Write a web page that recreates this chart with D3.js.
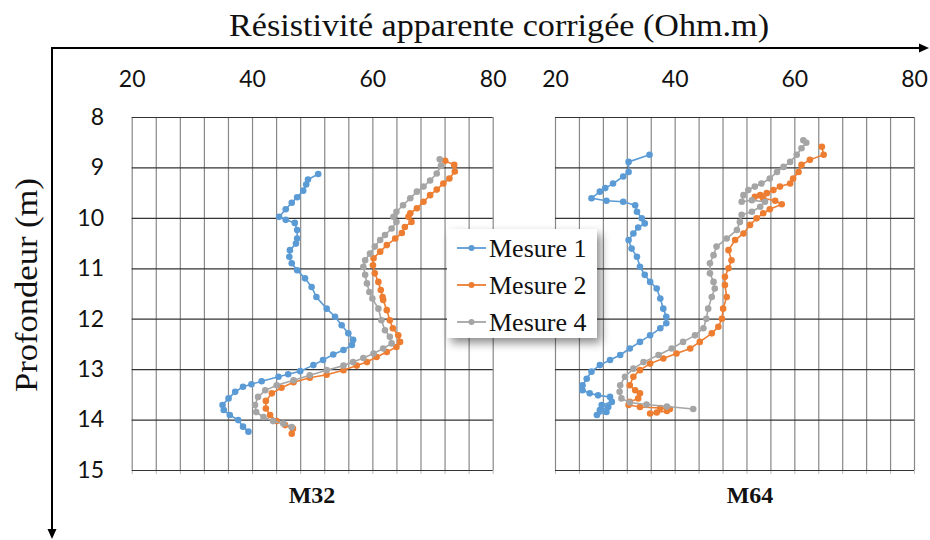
<!DOCTYPE html>
<html>
<head>
<meta charset="utf-8">
<script src="https://cdn.jsdelivr.net/npm/d3@7"></script>
<style>
  html, body { margin: 0; padding: 0; background: #fff; }
  svg { display: block; }
</style>
</head>
<body>
<svg id="chart" width="930" height="540"></svg>
<script>
// ---------- DATA ----------
const panels = ["M32", "M64"];
const seriesNames = ["Mesure 1", "Mesure 2", "Mesure 4"];
const seriesColors = ["#5B9BD5", "#ED7D31", "#A5A5A5"];
const xTickLabels = [20, 40, 60, 80];
const yTickLabels = [8, 9, 10, 11, 12, 13, 14, 15];
const xGridValues = [20, 24, 28, 32, 36, 40, 44, 48, 52, 56, 60, 64, 68, 72, 76, 80];

// M32 - Mesure 1
const m32_mes1_res   = [51.0, 49.3, 49.0, 48.5, 47.5, 46.6, 45.6, 44.5, 45.6, 47.1, 47.5, 47.5, 47.3, 46.3, 46.2, 46.6, 47.5, 48.8, 49.9, 50.7, 52.4, 53.8, 54.9, 56.0, 56.8, 56.6, 55.2, 53.5, 51.8, 50.2, 48.0, 46.0, 44.4, 41.6, 39.9, 38.5, 37.2, 36.1, 35.1, 35.3, 36.3, 37.7, 38.5, 39.4];
const m32_mes1_depth = [9.13, 9.24, 9.34, 9.46, 9.59, 9.70, 9.83, 9.98, 10.04, 10.10, 10.24, 10.41, 10.51, 10.64, 10.77, 10.90, 11.04, 11.20, 11.37, 11.57, 11.80, 11.96, 12.13, 12.29, 12.42, 12.52, 12.62, 12.71, 12.82, 12.92, 13.04, 13.10, 13.15, 13.24, 13.30, 13.35, 13.45, 13.58, 13.71, 13.81, 13.91, 14.01, 14.14, 14.24];
// M32 - Mesure 2
const m32_mes2_res   = [72.1, 73.6, 73.7, 72.8, 71.8, 70.7, 69.6, 68.5, 67.4, 66.3, 66.0, 66.5, 65.4, 64.9, 63.8, 62.4, 61.3, 60.2, 60.1, 60.4, 61.0, 61.4, 61.7, 61.8, 62.4, 62.9, 63.4, 64.3, 64.6, 64.0, 62.4, 60.7, 59.1, 57.4, 55.2, 52.4, 49.6, 46.9, 44.9, 43.3, 42.3, 42.3, 43.0, 44.1, 45.5, 46.8, 46.6];
const m32_mes2_depth = [8.87, 8.95, 9.08, 9.22, 9.32, 9.44, 9.55, 9.68, 9.81, 9.91, 9.98, 10.08, 10.18, 10.30, 10.41, 10.54, 10.67, 10.80, 10.94, 11.10, 11.27, 11.43, 11.57, 11.63, 11.83, 12.03, 12.19, 12.33, 12.46, 12.56, 12.66, 12.76, 12.86, 12.93, 13.02, 13.11, 13.17, 13.26, 13.37, 13.48, 13.63, 13.78, 13.91, 14.03, 14.11, 14.18, 14.28];
// M32 - Mesure 4
const m32_mes4_res   = [71.2, 71.4, 70.7, 69.6, 68.5, 67.4, 66.3, 65.1, 64.0, 63.5, 64.0, 63.2, 62.1, 61.3, 60.4, 59.6, 58.8, 58.5, 58.8, 59.1, 59.5, 60.0, 61.0, 61.5, 62.1, 62.9, 63.2, 61.8, 60.2, 58.5, 56.8, 55.2, 52.4, 49.6, 46.9, 44.1, 42.2, 41.0, 40.5, 40.7, 41.9, 43.5, 45.2, 46.6];
const m32_mes4_depth = [8.84, 8.97, 9.12, 9.26, 9.38, 9.48, 9.61, 9.75, 9.88, 9.98, 10.08, 10.21, 10.34, 10.44, 10.57, 10.71, 10.84, 10.97, 11.13, 11.30, 11.47, 11.60, 11.80, 12.03, 12.23, 12.36, 12.49, 12.59, 12.69, 12.78, 12.86, 12.93, 13.02, 13.12, 13.22, 13.32, 13.42, 13.55, 13.71, 13.85, 13.95, 14.03, 14.08, 14.15];

// M64 - Mesure 1
const m64_mes1_res   = [35.8, 32.3, 32.3, 31.4, 29.7, 28.4, 27.5, 26.1, 28.6, 31.4, 33.4, 33.7, 34.5, 35.0, 33.9, 33.1, 32.3, 32.8, 33.7, 34.2, 35.0, 35.9, 37.0, 37.6, 38.1, 38.6, 38.6, 37.6, 35.9, 34.2, 32.5, 30.9, 29.2, 27.5, 26.1, 25.3, 24.6, 24.6, 25.8, 27.2, 29.2, 29.5, 27.8, 28.9, 27.5, 28.6, 27.0];
const m64_mes1_depth = [8.75, 8.89, 9.09, 9.18, 9.32, 9.41, 9.48, 9.61, 9.66, 9.68, 9.75, 9.88, 10.01, 10.11, 10.19, 10.31, 10.44, 10.61, 10.77, 10.97, 11.13, 11.27, 11.40, 11.60, 11.80, 11.96, 12.09, 12.19, 12.33, 12.46, 12.59, 12.72, 12.82, 12.92, 13.05, 13.19, 13.32, 13.42, 13.48, 13.52, 13.55, 13.65, 13.71, 13.75, 13.81, 13.85, 13.91];
// M64 - Mesure 2
const m64_mes2_res   = [64.6, 64.9, 62.6, 61.2, 60.7, 59.8, 59.3, 57.6, 56.5, 55.4, 54.3, 53.4, 54.8, 56.8, 57.9, 55.9, 54.8, 53.7, 52.6, 51.5, 50.1, 49.0, 49.5, 49.0, 48.4, 48.4, 48.7, 48.1, 47.9, 47.3, 46.2, 44.2, 42.6, 40.3, 38.1, 35.9, 34.2, 33.1, 32.5, 33.4, 34.2, 33.9, 32.5, 32.3, 34.2, 37.6, 39.2, 38.7, 37.0, 35.9];
const m64_mes2_depth = [8.59, 8.75, 8.85, 8.95, 9.09, 9.22, 9.32, 9.38, 9.45, 9.51, 9.55, 9.58, 9.61, 9.66, 9.73, 9.83, 9.91, 10.01, 10.14, 10.31, 10.44, 10.64, 10.84, 11.00, 11.17, 11.33, 11.57, 11.80, 12.00, 12.16, 12.29, 12.46, 12.59, 12.69, 12.79, 12.89, 13.02, 13.15, 13.32, 13.42, 13.48, 13.58, 13.65, 13.71, 13.75, 13.77, 13.79, 13.83, 13.86, 13.88];
// M64 - Mesure 4
const m64_mes4_res   = [61.5, 62.0, 61.2, 60.4, 59.3, 58.2, 57.1, 55.9, 54.5, 53.4, 52.3, 51.5, 51.2, 52.9, 55.1, 54.3, 52.9, 51.2, 50.9, 50.4, 48.7, 47.0, 46.5, 45.9, 45.9, 46.5, 46.7, 46.2, 45.6, 45.3, 44.8, 43.4, 41.4, 39.5, 37.3, 34.8, 33.1, 31.7, 30.9, 30.8, 31.1, 32.5, 35.3, 38.7, 43.1];
const m64_mes4_depth = [8.46, 8.51, 8.62, 8.75, 8.89, 8.99, 9.09, 9.22, 9.32, 9.38, 9.45, 9.55, 9.68, 9.65, 9.68, 9.78, 9.88, 9.94, 10.08, 10.24, 10.41, 10.57, 10.74, 10.90, 11.10, 11.27, 11.40, 11.57, 11.80, 12.00, 12.19, 12.33, 12.46, 12.59, 12.72, 12.86, 12.99, 13.15, 13.32, 13.45, 13.58, 13.66, 13.70, 13.74, 13.79];

const panelData = [
  [[m32_mes1_res, m32_mes1_depth], [m32_mes2_res, m32_mes2_depth], [m32_mes4_res, m32_mes4_depth]],
  [[m64_mes1_res, m64_mes1_depth], [m64_mes2_res, m64_mes2_depth], [m64_mes4_res, m64_mes4_depth]]
];

// ---------- LAYOUT ----------
const svg = d3.select("#chart");
const serif = "'Liberation Serif', 'Times New Roman', serif";
const sans = "Lato, 'Open Sans', sans-serif";

const plotTop = 117, plotBottom = 470;
const panelRanges = [[131.7, 492.7], [555, 914]];
const labelX = [312, 750];

const y = d3.scaleLinear().domain([8, 15]).range([plotTop, plotBottom]);

const defs = svg.append("defs");
const filt = defs.append("filter").attr("id", "shadow")
  .attr("x", "-20%").attr("y", "-20%").attr("width", "150%").attr("height", "160%");
filt.append("feDropShadow").attr("dx", 4).attr("dy", 5).attr("stdDeviation", 5)
  .attr("flood-color", "#000").attr("flood-opacity", 0.45);

panels.forEach((name, pi) => {
  const x = d3.scaleLinear().domain([20, 80]).range(panelRanges[pi]);
  const g = svg.append("g");

  // vertical grid lines
  const vg = g.append("g").attr("transform", `translate(0,${plotBottom})`)
    .call(d3.axisBottom(x).tickValues(xGridValues).tickSize(-(plotBottom - plotTop)).tickFormat(""));
  vg.select(".domain").remove();
  vg.selectAll(".tick line").attr("stroke", "#888").attr("stroke-width", 1.2);

  // small ticks under the bottom edge
  const bt = g.append("g").attr("transform", `translate(0,${plotBottom})`)
    .call(d3.axisBottom(x).tickValues(xGridValues).tickSize(4).tickFormat(""));
  bt.select(".domain").remove();
  bt.selectAll(".tick line").attr("stroke", "#bbbbbb");

  // horizontal grid lines
  const hg = g.append("g").attr("transform", `translate(${panelRanges[pi][0]},0)`)
    .call(d3.axisLeft(y).tickValues(yTickLabels).tickSize(-(panelRanges[pi][1] - panelRanges[pi][0])).tickFormat(""));
  hg.select(".domain").remove();
  hg.selectAll(".tick line").attr("stroke", "#333").attr("stroke-width", 1.2);

  // top tick labels
  const xa = g.append("g").attr("transform", `translate(0,79)`)
    .call(d3.axisTop(x).tickValues(xTickLabels).tickSize(0).tickPadding(0).tickFormat(d3.format("d")));
  xa.select(".domain").remove();
  xa.selectAll("text").attr("font-family", sans).attr("font-size", 23).attr("fill", "#111")
    .attr("dy", "0.35em");

  // series
  panelData[pi].forEach(([res, dep], si) => {
    const pts = res.map((v, i) => [v, dep[i]]);
    g.append("path").datum(pts)
      .attr("fill", "none").attr("stroke", seriesColors[si]).attr("stroke-width", 1.6)
      .attr("d", d3.line().x(d => x(d[0])).y(d => y(d[1])));
    g.append("g").selectAll("circle").data(pts).join("circle")
      .attr("cx", d => x(d[0])).attr("cy", d => y(d[1])).attr("r", 3.3)
      .attr("fill", seriesColors[si]);
  });

  // panel label
  svg.append("text").attr("x", labelX[pi]).attr("y", 503).attr("text-anchor", "middle")
    .attr("font-family", serif).attr("font-weight", "bold").attr("font-size", 24)
    .attr("fill", "#111").text(name);
});

// y tick labels
const ya = svg.append("g").attr("transform", `translate(104,0)`)
  .call(d3.axisLeft(y).tickValues(yTickLabels).tickSize(0).tickPadding(0).tickFormat(d3.format("d")));
ya.select(".domain").remove();
ya.selectAll("text").attr("font-family", sans).attr("font-size", 23).attr("fill", "#111");

// axis arrows
svg.append("line").attr("x1", 52).attr("y1", 48).attr("x2", 923).attr("y2", 48)
  .attr("stroke", "#000").attr("stroke-width", 2);
svg.append("path").attr("d", "M929,48 L919,43.5 L919,52.5 Z").attr("fill", "#000");
svg.append("line").attr("x1", 52).attr("y1", 47).attr("x2", 52).attr("y2", 532)
  .attr("stroke", "#000").attr("stroke-width", 2);
svg.append("path").attr("d", "M52,539 L47.5,529 L56.5,529 Z").attr("fill", "#000");

// titles
svg.append("text").attr("x", 499).attr("y", 36).attr("text-anchor", "middle")
  .attr("font-family", serif).attr("font-size", 32).attr("fill", "#111")
  .attr("textLength", 540).attr("lengthAdjust", "spacingAndGlyphs")
  .text("Résistivité apparente corrigée (Ohm.m)");
svg.append("text").attr("transform", "translate(37,285) rotate(-90)").attr("text-anchor", "middle")
  .attr("font-family", serif).attr("font-size", 32).attr("fill", "#111")
  .attr("textLength", 214).attr("lengthAdjust", "spacingAndGlyphs")
  .text("Profondeur (m)");

// legend
const lg = svg.append("g").attr("transform", "translate(447,229)");
lg.append("rect").attr("width", 150).attr("height", 109).attr("fill", "#fff")
  .attr("filter", "url(#shadow)");
seriesNames.forEach((n, i) => {
  const cy = 19 + i * 37;
  lg.append("line").attr("x1", 10).attr("x2", 39).attr("y1", cy).attr("y2", cy)
    .attr("stroke", seriesColors[i]).attr("stroke-width", 1.8);
  lg.append("circle").attr("cx", 24.5).attr("cy", cy).attr("r", 3).attr("fill", seriesColors[i]);
  lg.append("text").attr("x", 42).attr("y", cy).attr("dy", "0.35em")
    .attr("font-family", serif).attr("font-size", 26).attr("fill", "#111").text(n);
});
</script>
</body>
</html>
